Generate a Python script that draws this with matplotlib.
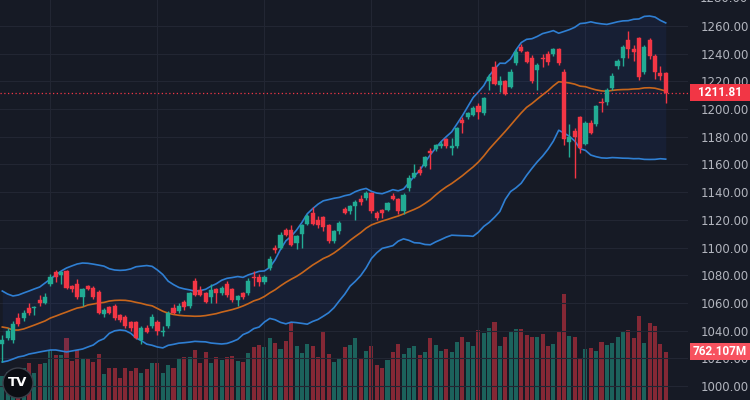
import matplotlib
matplotlib.use("Agg")
import matplotlib.pyplot as plt
from matplotlib.patches import Rectangle, Ellipse
import numpy as np

# OHLC, one entry per candle
opens = [1030, 1035, 1033, 1049, 1049, 1056, 1056, 1062, 1060, 1074,
         1082, 1080, 1083, 1072, 1074, 1064, 1072, 1071, 1068, 1052,
         1057, 1058, 1051, 1050, 1046, 1046, 1033, 1042, 1043, 1046,
         1039, 1043, 1056, 1054, 1061, 1058, 1076, 1069, 1067, 1064,
         1070, 1067, 1074, 1070, 1062, 1067, 1067, 1079, 1079, 1075,
         1085, 1100, 1100, 1113, 1113, 1103, 1110, 1117, 1125, 1120,
         1122, 1116, 1105, 1112, 1128, 1126, 1130, 1135, 1136, 1139,
         1125, 1127, 1127, 1137, 1135, 1126, 1143, 1151, 1156, 1159,
         1170, 1171, 1173, 1178, 1172, 1173, 1192, 1194, 1196, 1202,
         1197, 1220, 1230, 1217, 1220, 1216, 1233, 1245, 1241, 1237,
         1228, 1237, 1240, 1240, 1243, 1227, 1176, 1184, 1194, 1175,
         1190, 1189, 1205, 1205, 1215, 1231, 1237, 1250, 1243, 1251,
         1227, 1250, 1238, 1226, 1226]
highs = [1037, 1042, 1047, 1053, 1055, 1060, 1058, 1066, 1067, 1081,
         1084, 1083, 1084, 1073, 1077, 1071, 1073, 1072, 1069, 1056,
         1058, 1059, 1052, 1051, 1047, 1047, 1043, 1044, 1052, 1048,
         1043, 1054, 1059, 1060, 1062, 1068, 1078, 1072, 1068, 1074,
         1071, 1072, 1076, 1071, 1066, 1068, 1078, 1083, 1081, 1080,
         1094, 1102, 1111, 1114, 1116, 1109, 1117, 1124, 1129, 1123,
         1123, 1117, 1113, 1119, 1129, 1131, 1134, 1138, 1141, 1140,
         1126, 1128, 1133, 1139, 1136, 1139, 1152, 1160, 1159, 1166,
         1172, 1175, 1177, 1179, 1179, 1187, 1194, 1198, 1202, 1204,
         1209, 1225, 1235, 1224, 1221, 1229, 1243, 1247, 1242, 1239,
         1233, 1240, 1242, 1244, 1244, 1229, 1189, 1186, 1195, 1191,
         1192, 1203, 1208, 1215, 1226, 1236, 1246, 1256, 1246, 1252,
         1246, 1251, 1240, 1231, 1227]
lows = [1017, 1033, 1031, 1043, 1047, 1051, 1051, 1058, 1059, 1072,
        1075, 1074, 1070, 1068, 1063, 1058, 1069, 1063, 1052, 1050,
        1052, 1048, 1046, 1042, 1040, 1034, 1030, 1038, 1042, 1037,
        1036, 1042, 1052, 1053, 1055, 1056, 1065, 1065, 1060, 1060,
        1060, 1066, 1064, 1061, 1058, 1063, 1066, 1072, 1072, 1074,
        1084, 1096, 1099, 1108, 1101, 1099, 1100, 1116, 1116, 1114,
        1112, 1103, 1103, 1110, 1124, 1124, 1120, 1131, 1134, 1125,
        1120, 1121, 1126, 1134, 1124, 1124, 1141, 1150, 1152, 1158,
        1157, 1170, 1172, 1172, 1167, 1172, 1183, 1193, 1195, 1193,
        1196, 1214, 1217, 1212, 1210, 1215, 1232, 1241, 1233, 1219,
        1214, 1230, 1232, 1238, 1232, 1174, 1165, 1150, 1168, 1174,
        1182, 1188, 1198, 1203, 1214, 1229, 1231, 1237, 1235, 1221,
        1225, 1236, 1222, 1221, 1204]
closes = [1033, 1040, 1045, 1045, 1053, 1053, 1057, 1060, 1064, 1079,
          1079, 1082, 1071, 1070, 1064, 1070, 1070, 1064, 1053, 1055,
          1053, 1049, 1048, 1043, 1042, 1035, 1042, 1039, 1050, 1040,
          1040, 1053, 1053, 1058, 1057, 1067, 1066, 1066, 1061, 1069,
          1067, 1071, 1066, 1062, 1065, 1064, 1076, 1078, 1075, 1079,
          1092, 1098, 1109, 1109, 1102, 1108, 1116, 1123, 1117, 1116,
          1115, 1105, 1112, 1118, 1125, 1130, 1133, 1133, 1139, 1126,
          1121, 1125, 1132, 1135, 1126, 1138, 1150, 1154, 1154, 1165,
          1168, 1174, 1175, 1173, 1173, 1186, 1190, 1197, 1201, 1198,
          1208, 1223, 1218, 1220, 1211, 1227, 1241, 1242, 1234, 1220,
          1232, 1236, 1234, 1243, 1233, 1178, 1180, 1180, 1172, 1190,
          1183, 1202, 1204, 1214, 1224, 1235, 1245, 1243, 1241, 1223,
          1245, 1238, 1227, 1224, 1211.81]

# volume in millions
volumes = [379, 442, 473, 395, 505, 584, 426, 568, 584, 789,
           710, 710, 978, 615, 789, 663, 663, 600, 726, 410,
           505, 505, 347, 505, 458, 505, 426, 489, 584, 584,
           426, 552, 505, 647, 679, 679, 789, 584, 757, 584,
           679, 631, 679, 694, 615, 600, 742, 836, 868, 836,
           978, 899, 805, 931, 1231, 852, 742, 884, 852, 679,
           1073, 726, 600, 647, 832, 868, 974, 658, 778, 852,
           552, 510, 631, 762, 884, 726, 816, 852, 710, 762,
           983, 868, 773, 805, 753, 911, 999, 920, 852, 1105,
           1053, 1141, 1226, 852, 994, 1094, 1120, 1120, 1026, 999,
           999, 1037, 852, 884, 1068, 1673, 1010, 999, 658, 800,
           825, 773, 911, 868, 895, 999, 1078, 1105, 983, 1330,
           895, 1210, 1172, 884, 762.107]

# Bollinger values visible before a full 20-bar window exists
bb_mid_head = [1042.6, 1041.9, 1040.4, 1040.4, 1041.2, 1042.6, 1044.0, 1045.5, 1047.0, 1049.1,
               1050.5, 1052.0, 1053.4, 1054.9, 1056.3, 1057.0, 1058.5, 1059.2, 1059.9]
bb_up_head = [1068.6, 1066.4, 1065.0, 1065.7, 1067.2, 1068.6, 1070.1, 1071.5, 1074.4, 1077.3,
              1080.2, 1083.0, 1085.2, 1086.7, 1088.1, 1088.8, 1088.6, 1088.0, 1087.3]
bb_lo_head = [1017.3, 1018.1, 1019.5, 1021.0, 1021.7, 1023.1, 1023.8, 1024.6, 1025.3, 1026.0,
              1026.0, 1025.3, 1024.6, 1025.3, 1026.0, 1026.7, 1028.2, 1029.6, 1032.5]

price_ticks = [1000, 1020, 1040, 1060, 1080, 1100, 1120, 1140, 1160, 1180,
               1200, 1220, 1240, 1260]
last_price = 1211.81
last_volume_label = "762.107M"

BG = "#161a25"
UP = "#22ab94"
DOWN = "#f23645"
GRID = "#222633"
TXT = "#b2b5be"

o = np.array(opens, float)
h = np.array(highs, float)
l = np.array(lows, float)
c = np.array(closes, float)
v = np.array(volumes, float)
n = len(c)
x = np.arange(n)

# bollinger 20, 2
mid = np.full(n, np.nan)
up = np.full(n, np.nan)
lo = np.full(n, np.nan)
for i in range(n):
    if i < 19:
        mid[i], up[i], lo[i] = bb_mid_head[i], bb_up_head[i], bb_lo_head[i]
    else:
        w = c[i - 19:i + 1]
        m = w.mean()
        s = w.std()
        mid[i], up[i], lo[i] = m, m + 2 * s, m - 2 * s

W, H = 750, 400
fig = plt.figure(figsize=(7.5, 4), dpi=100, facecolor=BG)
ax = fig.add_axes([0, 0, 688 / W, 1])
axv = fig.add_axes([0, 0, 688 / W, 1], sharex=ax)
axv.set_zorder(ax.get_zorder() - 1)
ax.patch.set_visible(False)
axv.set_facecolor(BG)

# volume
colors = [UP if c[i] >= o[i] else DOWN for i in range(n)]
axv.bar(x, v, width=0.75, color=colors, alpha=0.5, linewidth=0)
axv.set_ylim(0, 6312)
axv.axis("off")

# grid
for t in price_ticks:
    ax.axhline(t, color=GRID, lw=0.8, zorder=0)
for t in [9, 29, 49, 69, 89, 109]:
    ax.axvline(t, color=GRID, lw=0.8, zorder=0)

# bands
ax.fill_between(x, lo, up, color="#2962ff", alpha=0.07, linewidth=0, zorder=1)
ax.plot(x, up, color="#2f7fd3", lw=1.2, zorder=2)
ax.plot(x, lo, color="#2f7fd3", lw=1.2, zorder=2)
ax.plot(x, mid, color="#c8661c", lw=1.2, zorder=2)

# candles
for i in range(n):
    col = colors[i]
    ax.vlines(x[i], l[i], h[i], color=col, lw=1, zorder=3)
    lo_b = min(o[i], c[i])
    hi_b = max(o[i], c[i])
    if hi_b - lo_b < 0.6:
        hi_b = lo_b + 0.6
    ax.add_patch(Rectangle((x[i] - 0.39, lo_b), 0.78, hi_b - lo_b,
                           facecolor=col, edgecolor=col, lw=0.3, zorder=4))

ax.axhline(last_price, color=DOWN, lw=0.9, ls=(0, (1, 2)), zorder=2)

ax.set_xlim(-0.43, (688 - 2.3) / 5.35)
ax.set_ylim(989.9, 1278.7)
for s in ax.spines.values():
    s.set_visible(False)
ax.set_xticks([])
ax.yaxis.tick_right()
ax.set_yticks(price_ticks)
ax.set_yticklabels([f"{t:.2f}" for t in price_ticks])
ax.tick_params(axis="y", length=0, pad=9, labelsize=8.5, labelcolor=TXT)
ax.text(1.017, 1280, "1280.00", transform=ax.get_yaxis_transform(), color=TXT,
        fontsize=8.5, va="center", ha="left", clip_on=False)

# last price / volume tags
def tag(y0, y1, text, color):
    fig.add_artist(Rectangle((690 / W, 1 - y1 / H), 60 / W, (y1 - y0) / H,
                             transform=fig.transFigure, facecolor=color,
                             edgecolor="none", zorder=5))
    fig.text(720 / W, 1 - (y0 + y1) / 2 / H, text, color="white", fontsize=8.5,
             family=["Roboto", "DejaVu Sans"], fontweight="bold",
             ha="center", va="center", zorder=6)

tag(84, 101, f"{last_price:.2f}", DOWN)
tag(343, 360, last_volume_label, "#f7525f")

# logo
fig.add_artist(Ellipse((18 / W, 1 - 383 / H), 30 / W, 30 / H, transform=fig.transFigure,
                       facecolor="#0b0d13", edgecolor="#3b3f4a", lw=1, zorder=5))
fig.text(18 / W, 1 - 383 / H, "TV", color="white", fontsize=9.5, fontweight="bold",
         ha="center", va="center", zorder=6)

fig.savefig("out.png", dpi=100, facecolor=BG)
